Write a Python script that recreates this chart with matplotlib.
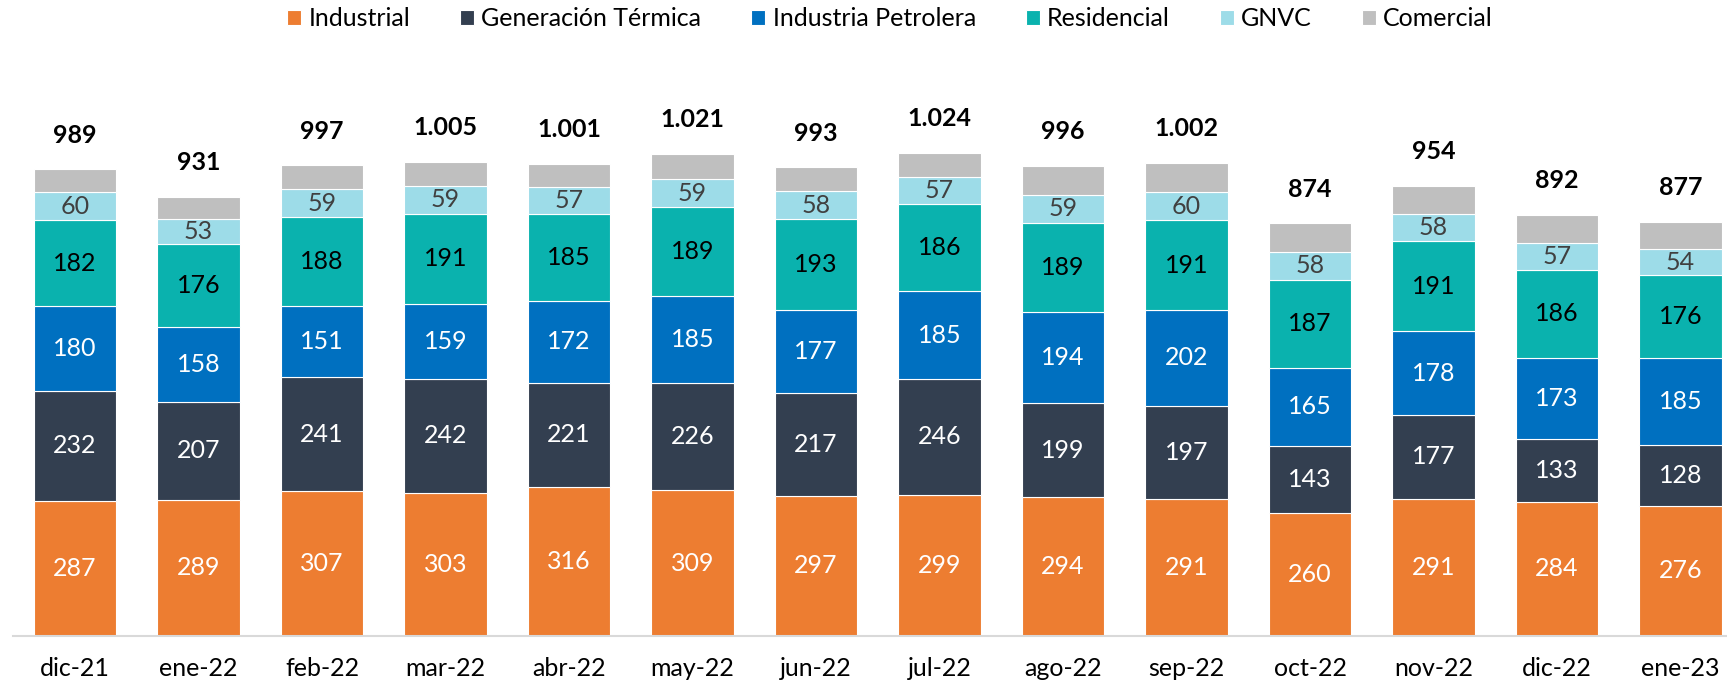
import matplotlib
matplotlib.use('Agg')
import matplotlib.pyplot as plt
import numpy as np

plt.rcParams['font.family'] = ['Lato', 'DejaVu Sans']

# ---------------------------------------------------------------------------
# Data (volumes per sector)
# ---------------------------------------------------------------------------
months = ['dic-21', 'ene-22', 'feb-22', 'mar-22', 'abr-22', 'may-22', 'jun-22',
          'jul-22', 'ago-22', 'sep-22', 'oct-22', 'nov-22', 'dic-22', 'ene-23']

industrial  = [287, 289, 307, 303, 316, 309, 297, 299, 294, 291, 260, 291, 284, 276]
generacion  = [232, 207, 241, 242, 221, 226, 217, 246, 199, 197, 143, 177, 133, 128]
petrolera   = [180, 158, 151, 159, 172, 185, 177, 185, 194, 202, 165, 178, 173, 185]
residencial = [182, 176, 188, 191, 185, 189, 193, 186, 189, 191, 187, 191, 186, 176]
gnvc        = [60, 53, 59, 59, 57, 59, 58, 57, 59, 60, 58, 58, 57, 54]
comercial   = [48, 48, 51, 51, 50, 53, 51, 51, 61, 61, 61, 59, 59, 58]
totals      = ['989', '931', '997', '1.005', '1.001', '1.021', '993',
               '1.024', '996', '1.002', '874', '954', '892', '877']

series = [
    ('Industrial',          industrial,  '#ED7D31', 'white'),
    ('Generación Térmica',  generacion,  '#333F50', 'white'),
    ('Industria Petrolera', petrolera,   '#0070C0', 'white'),
    ('Residencial',         residencial, '#0AB2AE', 'black'),
    ('GNVC',                gnvc,        '#9DDCE8', '#404040'),
    ('Comercial',           comercial,   '#BFBFBF', None),
]

# ---------------------------------------------------------------------------
# Figure
# ---------------------------------------------------------------------------
W, H = 1727, 685
fig = plt.figure(figsize=(W / 100, H / 100), dpi=100)
ax = fig.add_axes([13 / W, (H - 636) / H, 1 - 13 / W, 590 / H])

x = np.arange(len(months))
bottom = np.zeros(len(months))
for name, vals, color, tcolor in series:
    vals = np.array(vals, dtype=float)
    ax.bar(x, vals, width=0.67, bottom=bottom, color=color,
           edgecolor='white', linewidth=0.8, label=name)
    if tcolor is not None:
        for xi, b, v in zip(x, bottom, vals):
            ax.text(xi, b + v / 2, f'{int(v)}', ha='center', va='center',
                    color=tcolor, fontsize=18)
    bottom += vals

for xi, top, lab in zip(x, bottom, totals):
    ax.text(xi, top + 48, lab, ha='center', va='bottom',
            fontsize=18, fontweight='bold', color='black')

ax.set_xlim(-62 / 123.5, (W - 75) / 123.5)
ax.set_ylim(0, 1250)
ax.set_xticks(x)
ax.set_xticklabels(months, fontsize=18)
ax.tick_params(axis='x', length=0, pad=15)
ax.set_yticks([])
for s in ['top', 'right', 'left']:
    ax.spines[s].set_visible(False)
ax.spines['bottom'].set_color('#D9D9D9')
ax.spines['bottom'].set_linewidth(1.5)

fig.legend(loc='center', bbox_to_anchor=(890 / W, 1 - 19 / H), ncol=6,
           frameon=False, fontsize=18, handlelength=0.55, handleheight=0.55,
           handletextpad=0.3, columnspacing=2.0)

fig.savefig('out.png', dpi=100)
